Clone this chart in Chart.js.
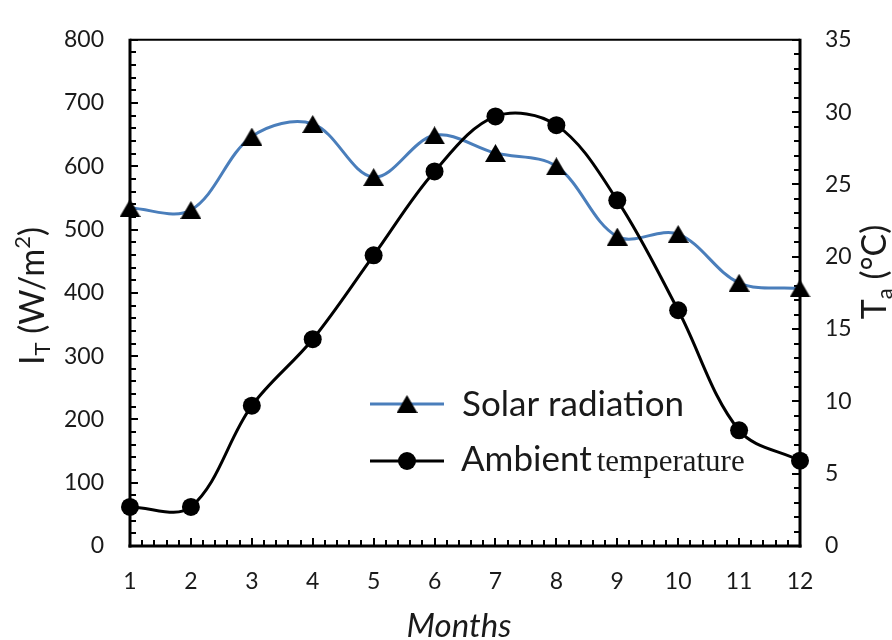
<!DOCTYPE html>
<html>
<head>
<meta charset="utf-8">
<script src="https://cdn.jsdelivr.net/npm/chart.js@4"></script>
<style>
  html, body { margin: 0; padding: 0; background: #fff; }
  #wrap { width: 892px; height: 640px; }
</style>
</head>
<body>
<div id="wrap"><canvas id="c" width="892" height="640"></canvas></div>
<script>
// ---- data ----
const months = [1, 2, 3, 4, 5, 6, 7, 8, 9, 10, 11, 12];
const solarRadiation = [534, 531, 647, 667, 583, 649, 621, 600, 489, 493, 416, 407];
const ambientTemperature = [2.7, 2.7, 9.7, 14.3, 20.1, 25.9, 29.7, 29.1, 23.9, 16.3, 8.0, 5.9];
const leftTicks = [0, 800, 100];   // min, max, step (W/m2)
const rightTicks = [0, 35, 5];     // min, max, step (°C)
const monthTicks = [1, 12, 1];
const seriesNames = ['Solar radiation', 'Ambient', 'temperature'];

const FONT = 'Lato, "Noto Sans", sans-serif';
const TEXT = '#1a1a1a';
const BLUE = '#4a7ebb';

// triangle marker centred on its bounding box (like a spreadsheet marker)
function triangleMarker(w, h) {
  const c = document.createElement('canvas');
  c.width = w; c.height = h;
  const g = c.getContext('2d');
  g.fillStyle = '#000';
  g.beginPath();
  g.moveTo(w / 2, 0);
  g.lineTo(w, h);
  g.lineTo(0, h);
  g.closePath();
  g.fill();
  return c;
}
const tri = triangleMarker(21, 18);

const axesPlugin = {
  id: 'axesPlugin',
  beforeDatasetsDraw(chart) {
    const { ctx, chartArea: a, scales } = chart;
    ctx.save();
    ctx.strokeStyle = '#000';
    ctx.lineCap = 'butt';
    // frame
    ctx.lineWidth = 2;
    ctx.beginPath(); ctx.moveTo(a.left, a.top); ctx.lineTo(a.right, a.top); ctx.stroke();
    ctx.lineWidth = 3;
    ctx.beginPath(); ctx.moveTo(a.left, a.top - 1); ctx.lineTo(a.left, a.bottom + 1.5); ctx.stroke();
    ctx.beginPath(); ctx.moveTo(a.right, a.top - 1); ctx.lineTo(a.right, a.bottom + 1.5); ctx.stroke();
    ctx.beginPath(); ctx.moveTo(a.left - 1.5, a.bottom); ctx.lineTo(a.right + 1.5, a.bottom); ctx.stroke();
    ctx.lineWidth = 2;
    // left ticks
    const yl = scales.y;
    const ls = leftTicks[2] / 5;
    for (let v = leftTicks[0]; v <= leftTicks[1] + 1e-9; v += ls) {
      const p = Math.round(yl.getPixelForValue(v));
      const major = Math.abs(v / leftTicks[2] - Math.round(v / leftTicks[2])) < 1e-6;
      const len = major ? 8 : 6;
      ctx.beginPath(); ctx.moveTo(a.left, p); ctx.lineTo(a.left + len, p); ctx.stroke();
    }
    // right ticks
    const yr = scales.y1;
    const rs = rightTicks[2] / 5;
    for (let v = rightTicks[0]; v <= rightTicks[1] + 1e-9; v += rs) {
      const p = Math.round(yr.getPixelForValue(v));
      const major = Math.abs(v / rightTicks[2] - Math.round(v / rightTicks[2])) < 1e-6;
      const len = major ? 8 : 6;
      ctx.beginPath(); ctx.moveTo(a.right, p); ctx.lineTo(a.right - len, p); ctx.stroke();
    }
    // bottom ticks
    const xs = scales.x;
    const bs = monthTicks[2] / 5;
    for (let v = monthTicks[0]; v <= monthTicks[1] + 1e-9; v += bs) {
      const p = Math.round(xs.getPixelForValue(v));
      const major = Math.abs(v / monthTicks[2] - Math.round(v / monthTicks[2])) < 1e-6;
      const len = major ? 8 : 6;
      ctx.beginPath(); ctx.moveTo(p, a.bottom); ctx.lineTo(p, a.bottom - len); ctx.stroke();
    }
    ctx.restore();
  },
  afterDraw(chart) {
    const { ctx, chartArea: a } = chart;
    ctx.save();
    ctx.fillStyle = TEXT;
    // left axis title: I_T (W/m2)
    ctx.save();
    ctx.translate(44, (a.top + a.bottom) / 2 + 3);
    ctx.rotate(-Math.PI / 2);
    const fMain = '34px ' + FONT;
    const fSub = '22px ' + FONT;
    const partsL = [['I', fMain, 0], ['T', fSub, 6], [' (W/m', fMain, 0], ['2', fSub, -14], [')', fMain, 0]];
    let wL = 0;
    partsL.forEach(p => { ctx.font = p[1]; wL += ctx.measureText(p[0]).width; });
    let x = -wL / 2;
    ctx.textBaseline = 'alphabetic';
    partsL.forEach(p => { ctx.font = p[1]; ctx.fillText(p[0], x, p[2]); x += ctx.measureText(p[0]).width; });
    ctx.restore();
    // right axis title: T_a (°C)
    ctx.save();
    ctx.translate(886, 272);
    ctx.rotate(-Math.PI / 2);
    const partsR = [['T', fMain, 0], ['a', fSub, 6], [' (°C)', fMain, 0]];
    let wR = 0;
    partsR.forEach(p => { ctx.font = p[1]; wR += ctx.measureText(p[0]).width; });
    x = -wR / 2;
    partsR.forEach(p => { ctx.font = p[1]; ctx.fillText(p[0], x, p[2]); x += ctx.measureText(p[0]).width; });
    ctx.restore();
    // x axis title
    ctx.font = 'italic 33px ' + FONT;
    ctx.textAlign = 'center';
    ctx.textBaseline = 'alphabetic';
    ctx.fillText('Months', (a.left + a.right) / 2 - 6, 637);
    // legend
    ctx.textAlign = 'left';
    const lx0 = 370, lx1 = 444, ly1 = 404, ly2 = 461;
    ctx.strokeStyle = BLUE; ctx.lineWidth = 3;
    ctx.beginPath(); ctx.moveTo(lx0, ly1); ctx.lineTo(lx1, ly1); ctx.stroke();
    ctx.drawImage(tri, (lx0 + lx1) / 2 - tri.width / 2, ly1 - tri.height / 2);
    ctx.strokeStyle = '#000';
    ctx.beginPath(); ctx.moveTo(lx0, ly2); ctx.lineTo(lx1, ly2); ctx.stroke();
    ctx.fillStyle = '#000';
    ctx.beginPath(); ctx.arc((lx0 + lx1) / 2, ly2, 9, 0, Math.PI * 2); ctx.fill();
    ctx.fillStyle = TEXT;
    ctx.font = '35px ' + FONT;
    ctx.fillText(seriesNames[0], 462, ly1 + 12);
    ctx.fillText(seriesNames[1], 461, ly2 + 10);
    const wA = ctx.measureText(seriesNames[1] + ' ').width;
    ctx.font = '31px "Liberation Serif", "DejaVu Serif", serif';
    ctx.fillText(seriesNames[2], 461 + wA - 4, ly2 + 10);
    ctx.restore();
  }
};

const tickFont = { family: FONT, size: 23 };

new Chart(document.getElementById('c'), {
  type: 'line',
  data: {
    datasets: [
      {
        label: seriesNames[0],
        data: months.map((m, i) => ({ x: m, y: solarRadiation[i] })),
        yAxisID: 'y',
        borderColor: BLUE,
        borderWidth: 3,
        tension: 0.35,
        pointStyle: tri,
        pointRadius: 10,
        pointHoverRadius: 10,
        pointBackgroundColor: '#000',
        pointBorderColor: '#000',
        clip: false,
        order: 1
      },
      {
        label: seriesNames[1] + ' ' + seriesNames[2],
        data: months.map((m, i) => ({ x: m, y: ambientTemperature[i] })),
        yAxisID: 'y1',
        borderColor: '#000',
        borderWidth: 3,
        tension: 0.35,
        pointStyle: 'circle',
        pointRadius: 9,
        pointHoverRadius: 9,
        pointBackgroundColor: '#000',
        pointBorderColor: '#000',
        pointBorderWidth: 0,
        clip: false,
        order: 0
      }
    ]
  },
  options: {
    responsive: false,
    animation: false,
    events: [],
    layout: { padding: { top: 32, left: 0, right: 0, bottom: 0 } },
    plugins: { legend: { display: false }, tooltip: { enabled: false }, title: { display: false } },
    scales: {
      x: {
        type: 'linear',
        min: monthTicks[0], max: monthTicks[1],
        grid: { display: false, drawTicks: false },
        border: { display: false },
        ticks: { stepSize: monthTicks[2], font: tickFont, color: TEXT, padding: 22 },
        afterFit(s) { s.height = 94; }
      },
      y: {
        position: 'left',
        min: leftTicks[0], max: leftTicks[1],
        grid: { display: false, drawTicks: false },
        border: { display: false },
        ticks: { stepSize: leftTicks[2], font: tickFont, color: TEXT, padding: 26 },
        afterFit(s) { s.width = 130; }
      },
      y1: {
        position: 'right',
        min: rightTicks[0], max: rightTicks[1],
        grid: { display: false, drawTicks: false },
        border: { display: false },
        ticks: { stepSize: rightTicks[2], font: tickFont, color: TEXT, padding: 25 },
        afterFit(s) { s.width = 92; }
      }
    }
  },
  plugins: [axesPlugin]
});
</script>
</body>
</html>
